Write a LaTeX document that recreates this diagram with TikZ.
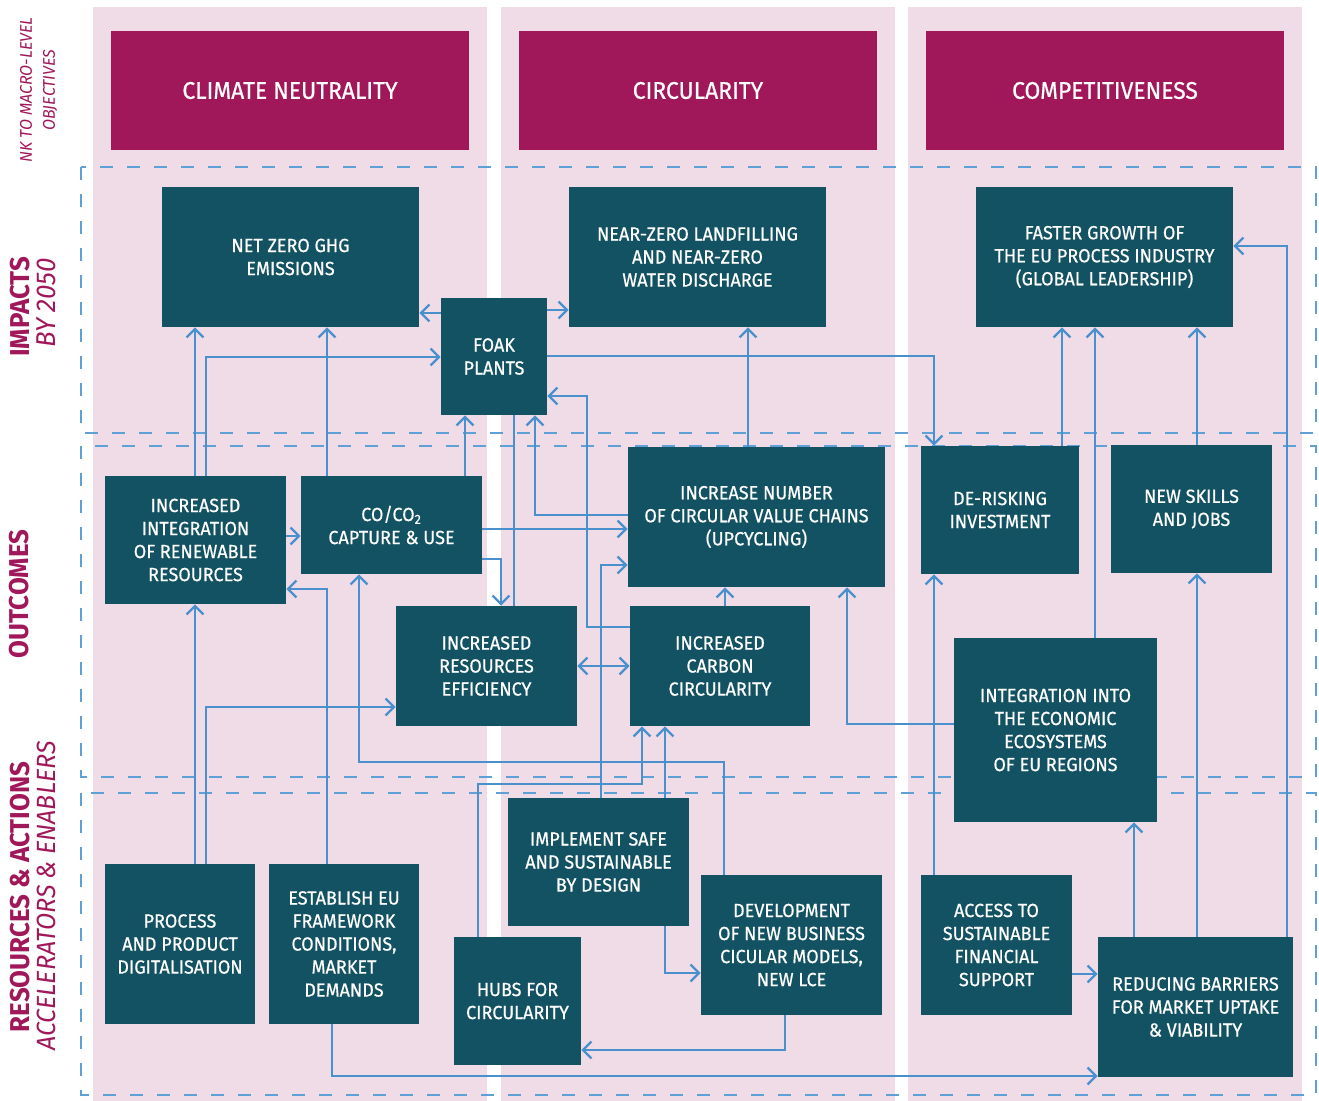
\documentclass[tikz,border=0pt]{standalone}
\usepackage{fontspec}
\setmainfont{Fira Sans}[FakeStretch=0.95]
\newfontfamily\boxfont{Fira Sans}[FakeStretch=0.95,FakeBold=0.6]
\usetikzlibrary{arrows.meta}
\definecolor{pinkbg}{RGB}{240,220,230}
\definecolor{euMag}{RGB}{161,24,90}
\definecolor{tealbox}{RGB}{18,82,98}
\definecolor{arrowblue}{RGB}{74,144,204}
\definecolor{dashblue}{RGB}{95,160,215}
\newcommand\bx[6]{\node[tbox, minimum width={(#4-#2)*0.2mm}, minimum height={(#5-#3)*0.2mm}] (#1) at ({(#2+#4)/2},{(#3+#5)/2}) {#6};}
\newcommand\hx[6]{\node[hbox, minimum width={(#4-#2)*0.2mm}, minimum height={(#5-#3)*0.2mm}] (#1) at ({(#2+#4)/2},{(#3+#5)/2}) {#6};}
\begin{document}
\begin{tikzpicture}[x=0.2mm,y=-0.2mm,
  tbox/.style={fill=tealbox,text=white,align=center,inner sep=0pt,font=\boxfont\fontsize{10.8}{13.1}\selectfont},
  hbox/.style={fill=euMag,text=white,align=center,inner sep=0pt,font=\boxfont\fontsize{13.7}{15}\selectfont},
  conn/.style={draw=arrowblue,line width=1.3pt,-{Straight Barb[length=1.7mm,width=3.4mm]}},
  dconn/.style={draw=arrowblue,line width=1.3pt,{Straight Barb[length=1.7mm,width=3.4mm]}-{Straight Barb[length=1.7mm,width=3.4mm]}},
  plainc/.style={draw=arrowblue,line width=1.3pt},
  dashline/.style={draw=dashblue,line width=1pt,dash pattern=on 2.6mm off 2.8mm},
  lbl/.style={rotate=90,text=euMag,inner sep=0pt},
]
\useasboundingbox (0,0) rectangle (1319,1101);
% columns
\fill[pinkbg] (93,7) rectangle (487,1101);
\fill[pinkbg] (501,7) rectangle (895,1101);
\fill[pinkbg] (908,7) rectangle (1302,1101);
% headers
\hx{h1}{111}{31}{469}{150}{CLIMATE NEUTRALITY}
\hx{h2}{519}{31}{877}{150}{CIRCULARITY}
\hx{h3}{926}{31}{1284}{150}{COMPETITIVENESS}
% dashed frames
\draw[dashline] (81,167) rectangle (1316,433);
\draw[dashline] (81,446) rectangle (1316,777);
\draw[dashline] (81,793) rectangle (1316,1095);
% side labels
\node[lbl,font=\fontsize{9.6}{11}\itshape] (lk1) at (26,90) {NK TO MACRO-LEVEL};
\node[lbl,font=\fontsize{9.6}{11}\itshape] (lk2) at (50,90) {OBJECTIVES};
\node[lbl,font=\fontsize{15.5}{17}\bfseries] (imp) at (20,307) {IMPACTS};
\node[lbl,font=\fontsize{15.5}{17}\itshape] (by) at (46,303) {BY 2050};
\node[lbl,font=\fontsize{15.5}{17}\bfseries] (outc) at (19,594) {OUTCOMES};
\node[lbl,font=\fontsize{15.5}{17}\bfseries] (resa) at (20,897) {RESOURCES \& ACTIONS};
\node[lbl,font=\fontsize{15}{17}\itshape] (accl) at (46,896) {ACCELERATORS \& ENABLERS};
% boxes
\bx{nz}{162}{187}{419}{327}{NET ZERO GHG\\EMISSIONS}
\bx{nearz}{569}{187}{826}{327}{NEAR-ZERO LANDFILLING\\AND NEAR-ZERO\\WATER DISCHARGE}
\bx{fast}{976}{187}{1233}{327}{FASTER GROWTH OF\\THE EU PROCESS INDUSTRY\\(GLOBAL LEADERSHIP)}
\bx{foak}{441}{298}{547}{415}{FOAK\\PLANTS}
\bx{ren}{105}{476}{286}{604}{INCREASED\\INTEGRATION\\OF RENEWABLE\\RESOURCES}
\bx{co2}{301}{476}{482}{574}{CO/CO\textsubscript{2}\\CAPTURE \& USE}
\bx{incn}{628}{447}{885}{587}{INCREASE NUMBER\\OF CIRCULAR VALUE CHAINS\\(UPCYCLING)}
\bx{derisk}{921}{446}{1079}{574}{DE-RISKING\\INVESTMENT}
\bx{skills}{1111}{445}{1272}{573}{NEW SKILLS\\AND JOBS}
\bx{reseff}{396}{606}{577}{726}{INCREASED\\RESOURCES\\EFFICIENCY}
\bx{carb}{630}{606}{810}{726}{INCREASED\\CARBON\\CIRCULARITY}
\bx{integ}{954}{638}{1157}{822}{INTEGRATION INTO\\THE ECONOMIC\\ECOSYSTEMS\\OF EU REGIONS}
\bx{proc}{105}{864}{255}{1024}{PROCESS\\AND PRODUCT\\DIGITALISATION}
\bx{estab}{269}{864}{419}{1024}{ESTABLISH EU\\FRAMEWORK\\CONDITIONS,\\MARKET\\DEMANDS}
\bx{impl}{508}{798}{689}{926}{IMPLEMENT SAFE\\AND SUSTAINABLE\\BY DESIGN}
\bx{hubs}{454}{937}{581}{1065}{HUBS FOR\\CIRCULARITY}
\bx{dev}{701}{875}{882}{1015}{DEVELOPMENT\\OF NEW BUSINESS\\CICULAR MODELS,\\NEW LCE}
\bx{access}{921}{875}{1072}{1015}{ACCESS TO\\SUSTAINABLE\\FINANCIAL\\SUPPORT}
\bx{reduce}{1098}{937}{1293}{1077}{REDUCING BARRIERS\\FOR MARKET UPTAKE\\\& VIABILITY}
% connectors
\draw[conn] (ren.north -| 195,0) -- (nz.south -| 195,0);
\draw[conn] (ren.north -| 206,0) |- (foak.west |- 0,357);
\draw[conn] (co2.north -| 327,0) -- (nz.south -| 327,0);
\draw[conn] (co2.north -| 465,0) -- (foak.south -| 465,0);
\draw[conn] (ren.east |- 0,536) -- (co2.west |- 0,536);
\draw[conn] (proc.north -| 195,0) -- (ren.south -| 195,0);
\draw[conn] (proc.north -| 206,0) |- (reseff.west |- 0,707);
\draw[conn] (estab.north -| 327,0) |- (ren.east |- 0,589);
\draw[conn] (dev.north -| 724,0) -- (724,762) -| (co2.south -| 359,0);
\draw[conn] (estab.south -| 332,0) |- (reduce.west |- 0,1076);
\draw[conn] (dev.south -| 785,0) |- (hubs.east |- 0,1050);
\draw[conn] (impl.south -| 665,0) |- (dev.west |- 0,973);
\draw[conn] (hubs.north -| 478,0) -- (478,784) -| (carb.south -| 642,0);
\draw[conn] (impl.north -| 665,0) -- (carb.south -| 665,0);
\draw[conn] (impl.north -| 601,0) |- (incn.west |- 0,565);
\draw[conn] (carb.north -| 725,0) -- (incn.south -| 725,0);
\draw[conn] (carb.west |- 0,627) -| (587,396) -- (foak.east |- 0,396);
\draw[conn] (incn.west |- 0,515) -| (foak.south -| 535,0);
\draw[conn] (co2.east |- 0,529) -- (incn.west |- 0,529);
\draw[conn] (co2.east |- 0,559) -| (reseff.north -| 501,0);
\draw[plainc] (foak.south -| 514,0) -- (reseff.north -| 514,0);
\draw[dconn] (reseff.east |- 0,666) -- (carb.west |- 0,666);
\draw[conn] (foak.west |- 0,313) -- (nz.east |- 0,313);
\draw[conn] (foak.east |- 0,310) -- (nearz.west |- 0,310);
\draw[conn] (foak.east |- 0,356) -| (derisk.north -| 934,0);
\draw[conn] (incn.north -| 748,0) -- (nearz.south -| 748,0);
\draw[conn] (derisk.north -| 1062,0) -- (fast.south -| 1062,0);
\draw[conn] (integ.north -| 1095,0) -- (fast.south -| 1095,0);
\draw[conn] (skills.north -| 1197,0) -- (fast.south -| 1197,0);
\draw[conn] (reduce.north -| 1287,0) |- (fast.east |- 0,246);
\draw[conn] (reduce.north -| 1197,0) -- (skills.south -| 1197,0);
\draw[conn] (reduce.north -| 1134,0) -- (integ.south -| 1134,0);
\draw[conn] (access.east |- 0,974) -- (reduce.west |- 0,974);
\draw[conn] (access.north -| 934,0) -- (derisk.south -| 934,0);
\draw[conn] (integ.west |- 0,724) -| (incn.south -| 847,0);
\end{tikzpicture}
\end{document}
